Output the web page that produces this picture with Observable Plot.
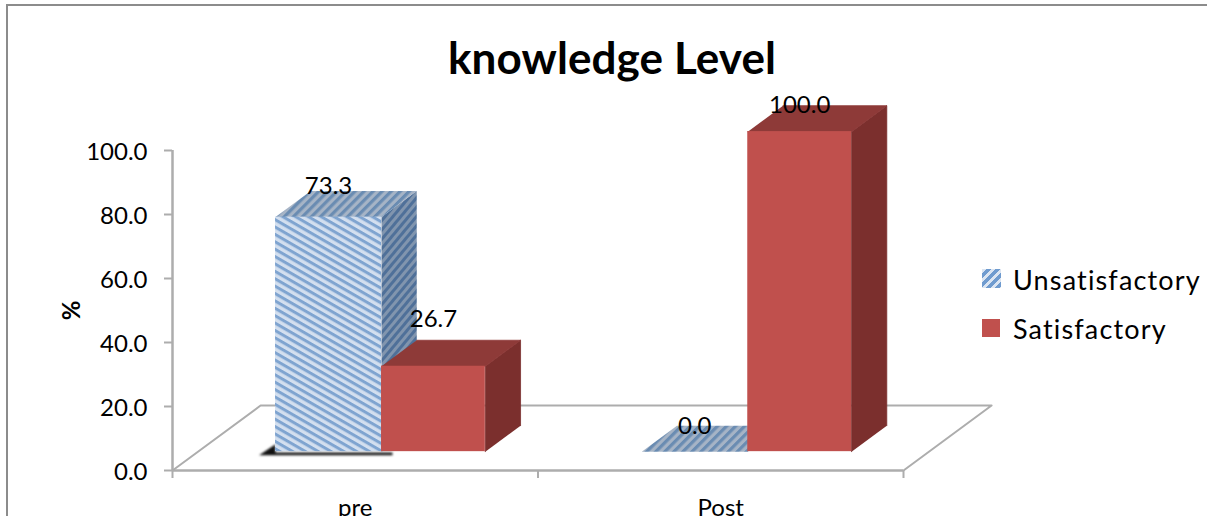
<!DOCTYPE html>
<html>
<head>
<meta charset="utf-8">
<script src="https://cdn.jsdelivr.net/npm/d3@7"></script>
<script src="https://cdn.jsdelivr.net/npm/@observablehq/plot@0.6"></script>
<style>
  html, body { margin: 0; padding: 0; background: #fff; overflow: hidden; width: 1207px; height: 516px; }
  #chart { position: absolute; left: 0; top: 0; }
  #frame { position: absolute; left: 6px; top: 4px; right: -4px; bottom: -4px; border-left: 2px solid #8c8c8c; border-top: 2px solid #8c8c8c; }
  #title { position: absolute; left: 0; width: 1224px; top: 30px; text-align: center; font: 700 44px/54px Lato, sans-serif; color: #000; letter-spacing: 0.1px; }
  .lg { position: absolute; left: 1013px; font: 400 27px/34px Lato, sans-serif; color: #000; letter-spacing: 1.15px; white-space: nowrap; }
  .sw { position: absolute; left: 982px; width: 19px; height: 19px; }
</style>
</head>
<body>
<div id="frame"></div>
<div id="chart"></div>
<div id="title">knowledge Level</div>
<div class="sw" style="top:269px;background:repeating-linear-gradient(135deg,#dbe5f2 0 3px,#6f9bcf 3px 6.5px)"></div>
<div class="lg" id="lg0" style="top:263px"></div>
<div class="sw" style="top:319px;width:18px;height:18px;background:#C0504D"></div>
<div class="lg" id="lg1" style="top:312px"></div>
<script>
const categories = ["pre", "Post"];
const seriesNames = ["Unsatisfactory", "Satisfactory"];
const unsatisfactory = [73.3, 0.0];
const satisfactory = [26.7, 100.0];
const yTicks = [0, 20, 40, 60, 80, 100];

document.getElementById("lg0").textContent = seriesNames[0];
document.getElementById("lg1").textContent = seriesNames[1];

// oblique projection of the 3D chart box, in scale units
const depthX = 0.241, depthY = 20.3;
const zFront = 0.29, zBack = 0.69;
const barStart = 0.212, blueWidth = 0.29, redWidth = 0.284;
const px = (x, z) => x + z * depthX;
const py = (y, z) => y + z * depthY;

const bars = [];
categories.forEach((c, i) => {
  const start = i + barStart + (i ? 0.002 : 0);
  bars.push({category: c, series: 0, value: unsatisfactory[i], x0: start, x1: start + blueWidth});
  bars.push({category: c, series: 1, value: satisfactory[i], x0: start + blueWidth, x1: start + blueWidth + redWidth});
});

const poly = (b, kind) => {
  const {x0, x1, value: v} = b;
  const id = kind + b.category + b.series;
  const pts = kind === "top"
    ? [[x0, v, zFront], [x1, v, zFront], [x1, v, zBack], [x0, v, zBack]]
    : [[x1, 0, zFront], [x1, v, zFront], [x1, v, zBack], [x1, 0, zBack]];
  return pts.map(([x, y, z]) => ({id, x: px(x, z), y: py(y, z)}));
};

const soft = {imageFilter: "blur(0.45px)"};
const drawBar = b => {
  const blue = b.series === 0;
  const marks = [];
  if (b.value > 0) {
    marks.push(Plot.line(poly(b, "side"), {x: "x", y: "y", z: "id",
      stroke: blue ? "none" : "#7B2F2D", strokeWidth: 0.8,
      fill: blue ? "url(#blueSide)" : "#7B2F2D", ...soft}));
  }
  marks.push(Plot.line(poly(b, "top"), {x: "x", y: "y", z: "id",
    stroke: blue ? "none" : "#8E3A38", strokeWidth: 0.8,
    fill: blue ? "url(#blueTop)" : "#8E3A38", ...soft}));
  if (b.value > 0) {
    marks.push(Plot.rect([b], {
      x1: d => px(d.x0, zFront), x2: d => px(d.x1, zFront),
      y1: () => py(0, zFront), y2: d => py(d.value, zFront),
      fill: blue ? "url(#blueFront)" : "#C0504D", ...soft
    }));
  }
  return marks;
};

const defs = () => {
  const ns = "http://www.w3.org/2000/svg";
  const d = document.createElementNS(ns, "defs");
  d.innerHTML = `
    <pattern id="blueFront" patternUnits="userSpaceOnUse" width="20" height="6.4" patternTransform="rotate(30)">
      <rect width="20" height="6.4" fill="#d3dfef"/><rect width="20" height="3" fill="#7fa4d0"/>
    </pattern>
    <pattern id="blueTop" patternUnits="userSpaceOnUse" width="6.4" height="20" patternTransform="rotate(45)">
      <rect width="6.4" height="20" fill="#a6b4c6"/><rect width="3.2" height="20" fill="#6a8cb2"/>
    </pattern>
    <pattern id="blueSide" patternUnits="userSpaceOnUse" width="6" height="20" patternTransform="rotate(40)">
      <rect width="6" height="20" fill="#8195ae"/><rect width="3" height="20" fill="#4f7099"/>
    </pattern>`;
  return d;
};

const labelLift = {pre0: 31, Post0: 25, pre1: 47, Post1: 26};
const valueLabels = ["pre0", "Post0", "pre1", "Post1"].map(key =>
  Plot.text(bars, {
    filter: d => d.category + d.series === key,
    x: d => px((d.x0 + d.x1) / 2, zFront),
    y: d => py(d.value, zFront),
    text: d => d.value.toFixed(1),
    dy: -labelLift[key], fontSize: 24, fill: "#000"
  })
);

const gray = "#adadad";
const plot = Plot.plot({
  width: 1207, height: 516,
  marginLeft: 172, marginRight: 304, marginTop: 150, marginBottom: 46,
  x: {domain: [0, 2]},
  y: {domain: [0, 100]},
  style: {background: "transparent", fontFamily: "Lato, sans-serif", color: "#000"},
  marks: [
    defs,
    // floor outline
    Plot.line([{x: px(0, 0), y: py(0, 0)}, {x: px(0, 1), y: py(0, 1)}, {x: px(2, 1), y: py(0, 1)}, {x: px(2, 0), y: py(0, 0)}],
      {x: "x", y: "y", stroke: gray, strokeWidth: 2}),
    // shadow under the first bar
    Plot.line([{x: px(bars[0].x0, zFront) - 0.045, y: 4.8}, {x: px(bars[0].x0, zFront), y: 8.2}, {x: px(bars[0].x0, zFront), y: 5.6}, {x: px(bars[0].x1, zFront) + 0.03, y: 5.6}, {x: px(bars[0].x1, zFront) + 0.03, y: 4.8}],
      {x: "x", y: "y", stroke: "none", fill: "#111", imageFilter: "blur(1px)"}),
    ...bars.flatMap(drawBar),
    // axes
    Plot.ruleX([0], {y1: 0, y2: 100, stroke: gray, strokeWidth: 2.5}),
    Plot.ruleY([0], {x1: 0, x2: 2, stroke: gray, strokeWidth: 2.5}),
    Plot.axisY({ticks: yTicks, tickFormat: () => "", tickSize: 8, label: null, stroke: gray, strokeWidth: 2}),
    Plot.axisY({ticks: yTicks, tickFormat: d => d.toFixed(1), tickSize: 0, tickPadding: 25, dy: 2, label: null, fontSize: 24, fill: "#000"}),
    Plot.axisX({ticks: [0, 1, 2], tickFormat: () => "", tickSize: 8, label: null, stroke: gray, strokeWidth: 2}),
    Plot.axisX({ticks: [0.5, 1.5], tickFormat: d => categories[Math.floor(d)], tickSize: 0, tickPadding: 28, label: null, fontSize: 24, fill: "#000"}),
    Plot.text(["%"], {x: () => 0, y: () => 50, rotate: -90, dx: -100, fontSize: 24, fontWeight: 700, fill: "#000"}),
    ...valueLabels
  ]
});
document.getElementById("chart").appendChild(plot);
</script>
</body>
</html>
